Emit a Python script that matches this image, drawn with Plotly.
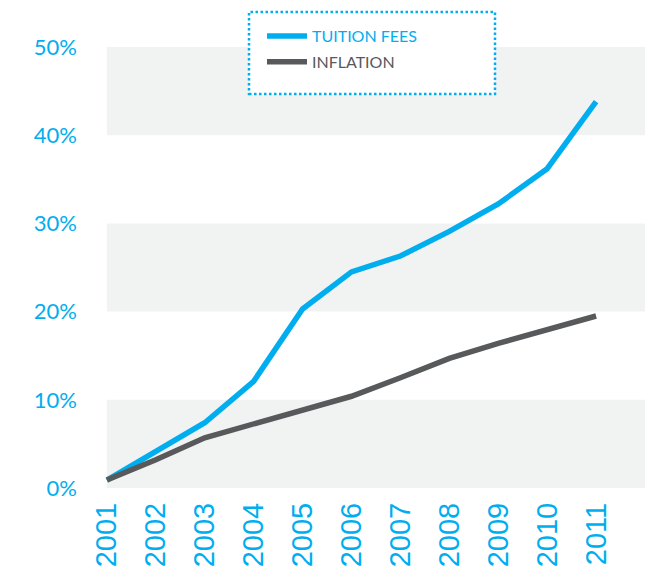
import plotly.graph_objects as go

years = [2001, 2002, 2003, 2004, 2005, 2006, 2007, 2008, 2009, 2010, 2011]
tuition_fees = [0.9, 4.1, 7.4, 12.1, 20.3, 24.5, 26.3, 29.1, 32.2, 36.2, 43.8]
inflation = [0.9, 3.2, 5.7, 7.3, 8.8, 10.4, 12.5, 14.7, 16.4, 18.0, 19.5]
y_ticks = [0, 10, 20, 30, 40, 50]
y_tick_labels = ["0%", "10%", "20%", "30%", "40%", "50%"]
bands = [(0, 10), (20, 30), (40, 50)]

BLUE = "#00AEEF"
GREY = "#58595B"
BAND = "#F1F3F3"

fig = go.Figure()
fig.add_trace(go.Scatter(
    x=years, y=tuition_fees, mode="lines", legendgroup="a",
    name=f'<span style="color:{BLUE}">TUITION FEES</span>',
    line=dict(color=BLUE, width=5.5),
))
fig.add_trace(go.Scatter(
    x=years, y=inflation, mode="lines", legendgroup="b",
    name=f'<span style="color:{GREY}">INFLATION</span>',
    line=dict(color=GREY, width=5.5),
))

shapes = []
for y0, y1 in bands:
    shapes.append(dict(type="rect", xref="x", yref="y", x0=years[0], x1=2012,
                       y0=y0, y1=y1, fillcolor=BAND, line=dict(width=0), layer="below"))

L, R, T, B = 102, 5, 47, 79
W, H = 650, 567
pw, ph = W - L - R, H - T - B
def px_to_paper_x(px):
    return (px - L) / pw
def px_to_paper_y(py):
    return (H - B - py) / ph

shapes.append(dict(type="rect", xref="paper", yref="paper",
                   x0=px_to_paper_x(249), x1=px_to_paper_x(495),
                   y0=px_to_paper_y(94), y1=px_to_paper_y(12),
                   fillcolor="white", line=dict(color=BLUE, width=2.5, dash="2.5px,2.5px"),
                   layer="above"))

fig.update_layout(
    width=W, height=H,
    margin=dict(l=L, r=R, t=T, b=B, autoexpand=False),
    paper_bgcolor="white", plot_bgcolor="white",
    shapes=shapes,
    showlegend=True,
    legend=dict(
        xref="container", yref="container",
        x=262 / W, y=1 - 19 / H, xanchor="left", yanchor="top",
        bgcolor="rgba(0,0,0,0)", borderwidth=0,
        font=dict(family="Lato", size=16),
        traceorder="grouped", tracegroupgap=2,
        itemwidth=40,
    ),
    xaxis=dict(
        range=[2000.9, 2012], tickmode="array", tickvals=years,
        ticktext=[str(y) for y in years], tickangle=-90,
        tickfont=dict(family="Liberation Sans", size=29, color=BLUE),
        showgrid=False, zeroline=False, showline=False, ticks="",
        ticklabelstandoff=8, automargin=False,
    ),
    yaxis=dict(
        range=[0, 50], tickmode="array", tickvals=y_ticks, ticktext=y_tick_labels,
        tickfont=dict(family="Lato", size=22, color=BLUE),
        showgrid=False, zeroline=False, showline=False, ticks="",
        ticklabelstandoff=24, automargin=False,
    ),
)

fig.write_html("out.html")
